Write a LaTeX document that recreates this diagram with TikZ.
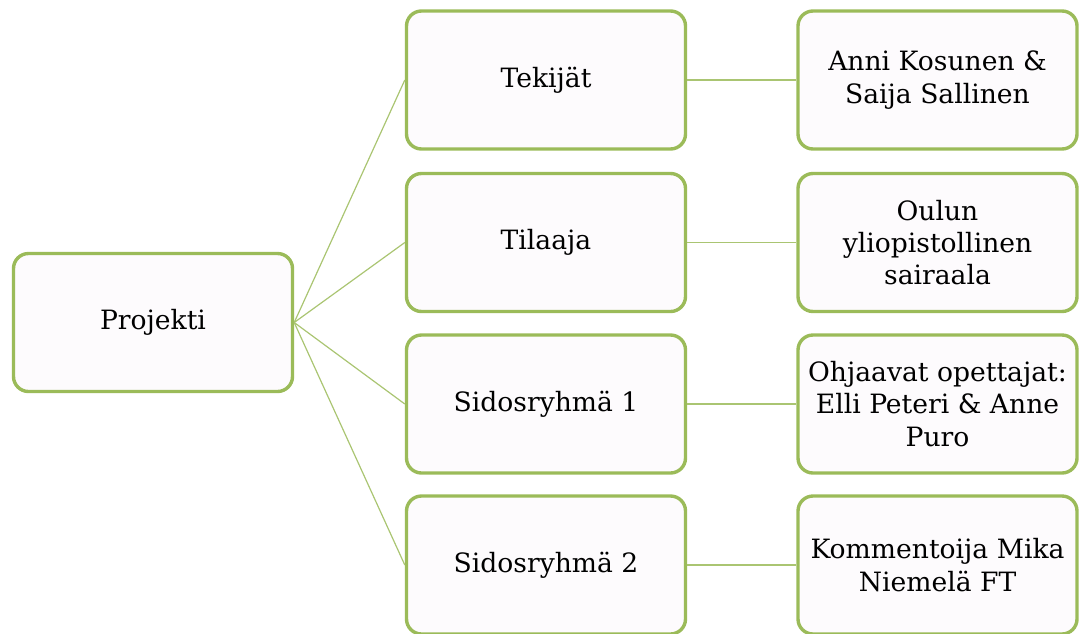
\documentclass[tikz,border=0pt]{standalone}
\usepackage{fontspec}
\setmainfont{DejaVu Serif}
\definecolor{olivegreen}{HTML}{9BBB59}
\definecolor{boxfill}{HTML}{FDFBFD}
\tikzset{
	box/.style={draw=olivegreen, line width=1.7pt, fill=boxfill, rounded corners=7.5pt,
		minimum width=139.5pt, minimum height=69pt, align=center,
		font=\fontsize{13.3}{16.2}\selectfont},
	link/.style={draw=olivegreen!85, line width=0.6pt}
}
\begin{document}
\begin{tikzpicture}[x=0.5pt, y=-0.5pt]

		\useasboundingbox (0,0) rectangle (1080,633);

		% root
		\node[box] (proj) at (153,322.5) {Projekti};

		% middle column
		\node[box] (tekijat)  at (546,80)    {Tekijät};
		\node[box] (tilaaja)  at (546,242.5) {Tilaaja};
		\node[box] (sidos1)   at (546,404)   {Sidosryhmä 1};
		\node[box] (sidos2)   at (546,565)   {Sidosryhmä 2};

		% right column
		\node[box] (tekijat-r) at (937.5,80)    {Anni Kosunen \&\\Saija Sallinen};
		\node[box] (tilaaja-r) at (937.5,242.5) {Oulun\\yliopistollinen\\sairaala};
		\node[box] (sidos1-r)  at (937.5,404)   {Ohjaavat opettajat:\\Elli Peteri \& Anne\\Puro};
		\node[box] (sidos2-r)  at (937.5,565)   {Kommentoija Mika\\Niemelä FT};

		% links
		\draw[link] (proj.east) -- (tekijat.west);
		\draw[link] (proj.east) -- (tilaaja.west);
		\draw[link] (proj.east) -- (sidos1.west);
		\draw[link] (proj.east) -- (sidos2.west);
		\draw[link] (tekijat.east) -- (tekijat-r.west);
		\draw[link] (tilaaja.east) -- (tilaaja-r.west);
		\draw[link] (sidos1.east) -- (sidos1-r.west);
		\draw[link] (sidos2.east) -- (sidos2-r.west);

	\end{tikzpicture}
\end{document}
